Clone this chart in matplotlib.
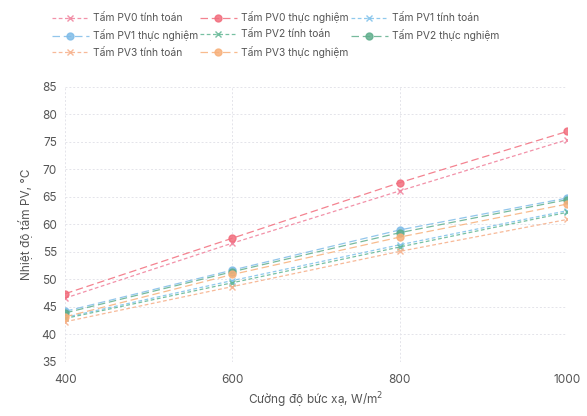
import numpy as np
import matplotlib.pyplot as plt

plt.rcParams['font.family'] = ['Inter', 'DejaVu Sans']

irradiance = [400, 600, 800, 1000]

pv0_calc = [46.6, 56.6, 66.1, 75.4]
pv0_exp = [47.4, 57.5, 67.6, 76.9]
pv1_calc = [43.1, 49.8, 56.3, 62.5]
pv1_exp = [44.2, 51.7, 59.0, 64.8]
pv2_calc = [42.9, 49.4, 55.9, 62.2]
pv2_exp = [43.9, 51.4, 58.5, 64.5]
pv3_calc = [42.3, 48.7, 55.1, 60.9]
pv3_exp = [43.2, 50.9, 57.7, 63.7]

series = [
    ("Tấm PV0 tính toán", pv0_calc, '#f07f9a', 'x', (0, (3, 2))),
    ("Tấm PV0 thực nghiệm", pv0_exp, '#f26d7d', 'o', (0, (6, 3))),
    ("Tấm PV1 tính toán", pv1_calc, '#7cc0ea', 'x', (0, (3, 2))),
    ("Tấm PV1 thực nghiệm", pv1_exp, '#7fbce8', 'o', (0, (6, 3))),
    ("Tấm PV2 tính toán", pv2_calc, '#5fb592', 'x', (0, (3, 2))),
    ("Tấm PV2 thực nghiệm", pv2_exp, '#5fae8c', 'o', (0, (6, 3))),
    ("Tấm PV3 tính toán", pv3_calc, '#f6ad86', 'x', (0, (3, 2))),
    ("Tấm PV3 thực nghiệm", pv3_exp, '#f7b07a', 'o', (0, (6, 3))),
]

fig = plt.figure(figsize=(5.87, 4.16), dpi=100)
ax = fig.add_axes([0.111, 0.130, 0.855, 0.661])

for label, vals, color, marker, ls in series:
    ax.plot(irradiance, vals, color=color, marker=marker, linestyle=ls,
            linewidth=0.9, markersize=5 if marker == 'o' else 4.5,
            markeredgewidth=1.0, alpha=0.85, label=label)

ax.set_xlim(400, 1000)
ax.set_ylim(35, 85)
ax.set_xticks([400, 600, 800, 1000])
ax.set_yticks(np.arange(35, 86, 5))
ax.grid(True, color='#e4e4ea', linewidth=0.7, linestyle=(0, (2, 2)))
for s in ax.spines.values():
    s.set_visible(False)
ax.tick_params(length=0, labelsize=8.5, colors='#555555')
ax.tick_params(axis='x', pad=9)
ax.tick_params(axis='y', pad=6)
ax.set_xlabel("Cường độ bức xạ, W/m$^2$", fontsize=8.5, color='#555555', labelpad=3)
ax.set_ylabel("Nhiệt độ tấm PV, °C", fontsize=8.5, color='#555555', labelpad=6)

# legend is filled column by column, so reorder to read row by row
handles, labels = ax.get_legend_handles_labels()
order = [0, 3, 6, 1, 4, 7, 2, 5]
fig.legend([handles[i] for i in order], [labels[i] for i in order],
           loc='upper left', bbox_to_anchor=(0.072, 0.995), ncol=3, frameon=False,
           fontsize=7.4, handlelength=3.6, handletextpad=0.4, columnspacing=0.2,
           labelspacing=0.6, labelcolor='#555555')

plt.savefig('out.png', dpi=100)
